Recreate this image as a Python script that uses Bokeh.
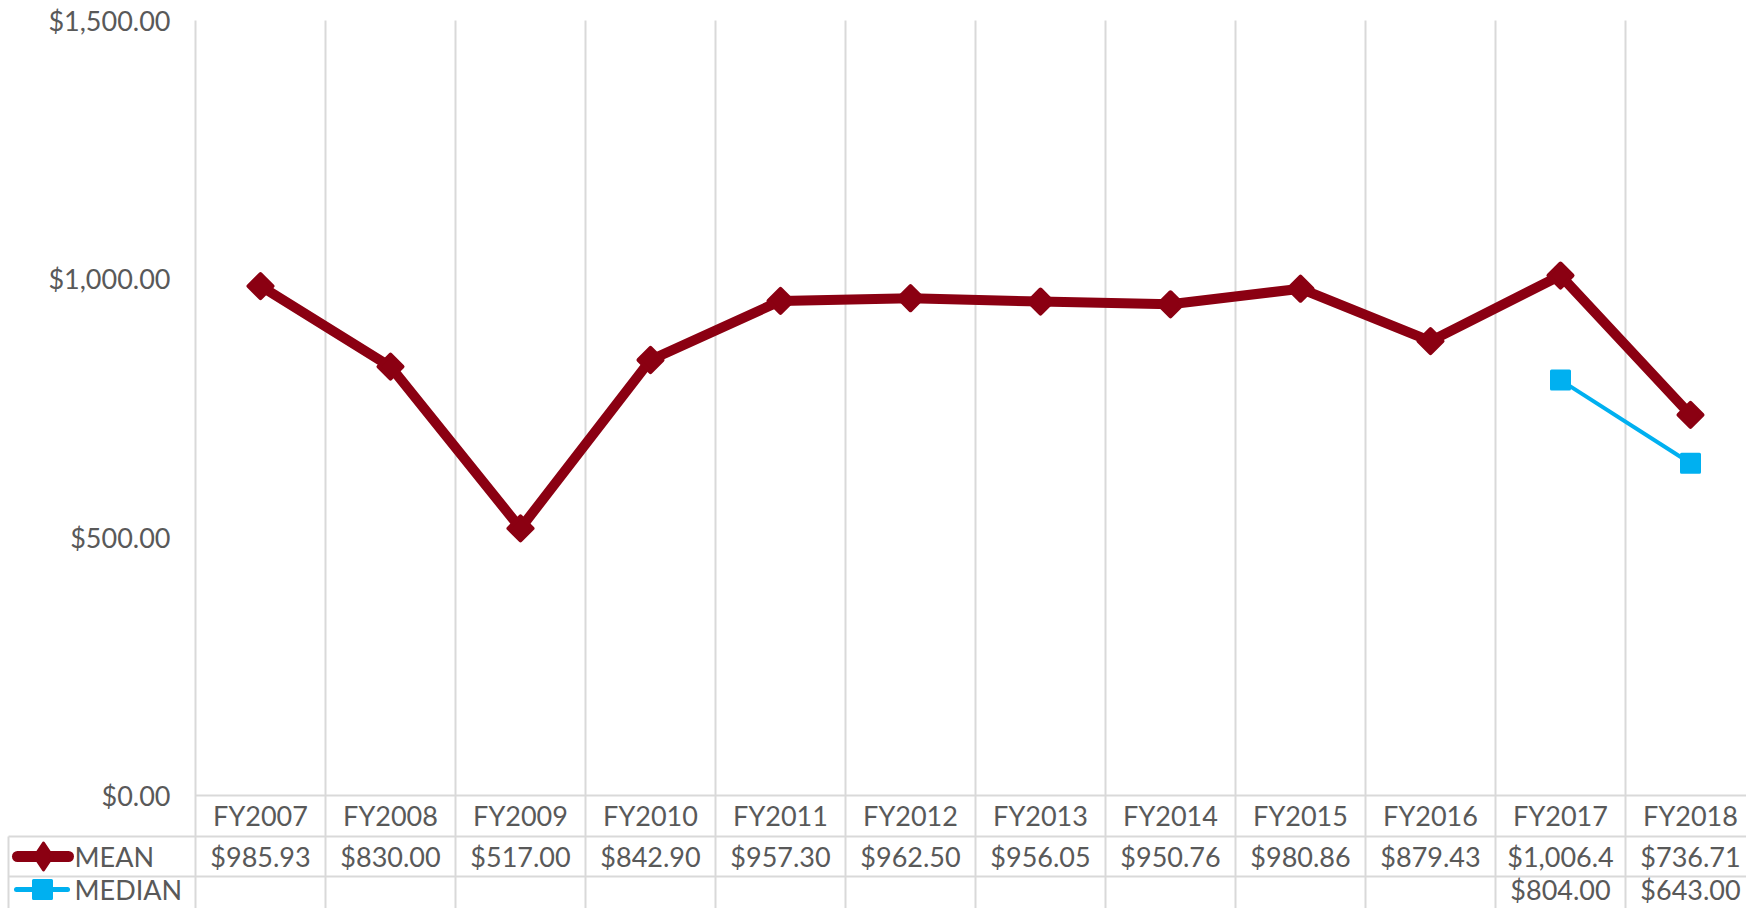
import math
from bokeh.plotting import figure
from bokeh.models import Range1d
from bokeh.core.properties import value
from bokeh.embed import file_html
from bokeh.resources import INLINE

# ---------------- data ----------------
categories = ["FY2007", "FY2008", "FY2009", "FY2010", "FY2011", "FY2012",
              "FY2013", "FY2014", "FY2015", "FY2016", "FY2017", "FY2018"]
mean_values = [985.93, 830.00, 517.00, 842.90, 957.30, 962.50,
               956.05, 950.76, 980.86, 879.43, 1006.40, 736.71]
median_values = [None, None, None, None, None, None,
                 None, None, None, None, 804.00, 643.00]
y_ticks = [0, 500, 1000, 1500]
series_names = ["MEAN", "MEDIAN"]

# ---------------- styles ----------------
MEAN_COLOR = "#8B0012"
MEDIAN_COLOR = "#00B0F0"
GRID_COLOR = "#D9D9D9"
TEXT_COLOR = "#595959"
FONT = value("Lato")
FS = "27px"

W, H = 1746, 908
COL_W = 130.0           # px per category column
PLOT_LEFT = 195.0       # px from canvas left to first column boundary
ZERO_Y = 795.0          # px from canvas top to value 0
PX_PER_UNIT = 775.0 / 1500.0

def px_to_x(px):
    return (px - PLOT_LEFT) / COL_W

def py_to_y(py):
    return (ZERO_Y - py) / PX_PER_UNIT

p = figure(width=W, height=H, output_backend="svg", toolbar_location=None,
           x_range=Range1d(px_to_x(0), px_to_x(W)),
           y_range=Range1d(py_to_y(H), py_to_y(0)),
           min_border=0, x_axis_type=None, y_axis_type=None)
p.grid.visible = False
p.outline_line_color = None
p.background_fill_color = "white"
p.border_fill_color = "white"

n = len(categories)
xc = [i + 0.5 for i in range(n)]

# table rows (value units)
row_cat_bottom = py_to_y(836)
row_mean_bottom = py_to_y(876)
row_med_bottom = py_to_y(930)
y_cat = py_to_y(815)
y_mean = py_to_y(856)
y_med = py_to_y(889)
x_left_border = px_to_x(8)

# vertical grid lines at column boundaries
p.segment(x0=list(range(n + 1)), y0=[max(y_ticks)] * (n + 1),
          x1=list(range(n + 1)), y1=[row_med_bottom] * (n + 1),
          line_color=GRID_COLOR, line_width=2)
# horizontal axis line and table row lines
p.segment(x0=[0, x_left_border, x_left_border], y0=[0, row_cat_bottom, row_mean_bottom],
          x1=[n, n, n], y1=[0, row_cat_bottom, row_mean_bottom],
          line_color=GRID_COLOR, line_width=2)
p.segment(x0=[x_left_border], y0=[row_cat_bottom], x1=[x_left_border], y1=[row_med_bottom],
          line_color=GRID_COLOR, line_width=2)

# y tick labels
p.text(x=[px_to_x(170)] * len(y_ticks), y=y_ticks,
       text=[f"${v:,.2f}" for v in y_ticks],
       text_align="right", text_baseline="middle",
       text_font=FONT, text_font_size=FS, text_color=TEXT_COLOR)

# category labels
p.text(x=xc, y=[y_cat] * n, text=categories, text_align="center", text_baseline="middle",
       text_font=FONT, text_font_size=FS, text_color=TEXT_COLOR)

# mean series
p.line(xc, mean_values, line_color=MEAN_COLOR, line_width=10,
       line_join="round", line_cap="round")
p.scatter(xc, mean_values, marker="square", angle=math.pi / 4, size=17,
          fill_color=MEAN_COLOR, line_color=MEAN_COLOR, line_width=4, line_join="round")

# median series
med_x = [x for x, v in zip(xc, median_values) if v is not None]
med_y = [v for v in median_values if v is not None]
p.line(med_x, med_y, line_color=MEDIAN_COLOR, line_width=4)
p.scatter(med_x, med_y, marker="square", size=18,
          fill_color=MEDIAN_COLOR, line_color=MEDIAN_COLOR, line_width=3, line_join="round")

# table values
mean_labels = [f"${v:,.2f}"[:8] for v in mean_values]
p.text(x=xc, y=[y_mean] * n, text=mean_labels, text_align="center", text_baseline="middle",
       text_font=FONT, text_font_size=FS, text_color=TEXT_COLOR)
med_labels = [f"${v:,.2f}" for v in med_y]
p.text(x=med_x, y=[y_med] * len(med_x), text=med_labels, text_align="center",
       text_baseline="middle", text_font=FONT, text_font_size=FS, text_color=TEXT_COLOR)

# legend keys inside table
p.segment(x0=[px_to_x(17)], y0=[y_mean], x1=[px_to_x(68)], y1=[y_mean], line_color=MEAN_COLOR,
          line_width=11, line_cap="round")
p.scatter([px_to_x(43)], [y_mean], marker="diamond", size=27, fill_color=MEAN_COLOR,
          line_color=MEAN_COLOR, line_width=3, line_join="round")
p.segment(x0=[px_to_x(16)], y0=[y_med], x1=[px_to_x(67)], y1=[y_med], line_color=MEDIAN_COLOR,
          line_width=5, line_cap="round")
p.scatter([px_to_x(42)], [y_med], marker="square", size=18, fill_color=MEDIAN_COLOR,
          line_color=MEDIAN_COLOR, line_width=3, line_join="round")
p.text(x=[px_to_x(74)] * 2, y=[y_mean, y_med], text=series_names, text_align="left",
       text_baseline="middle", text_font=FONT, text_font_size=FS, text_color=TEXT_COLOR)

open("out.html", "w").write(file_html(p, INLINE))
